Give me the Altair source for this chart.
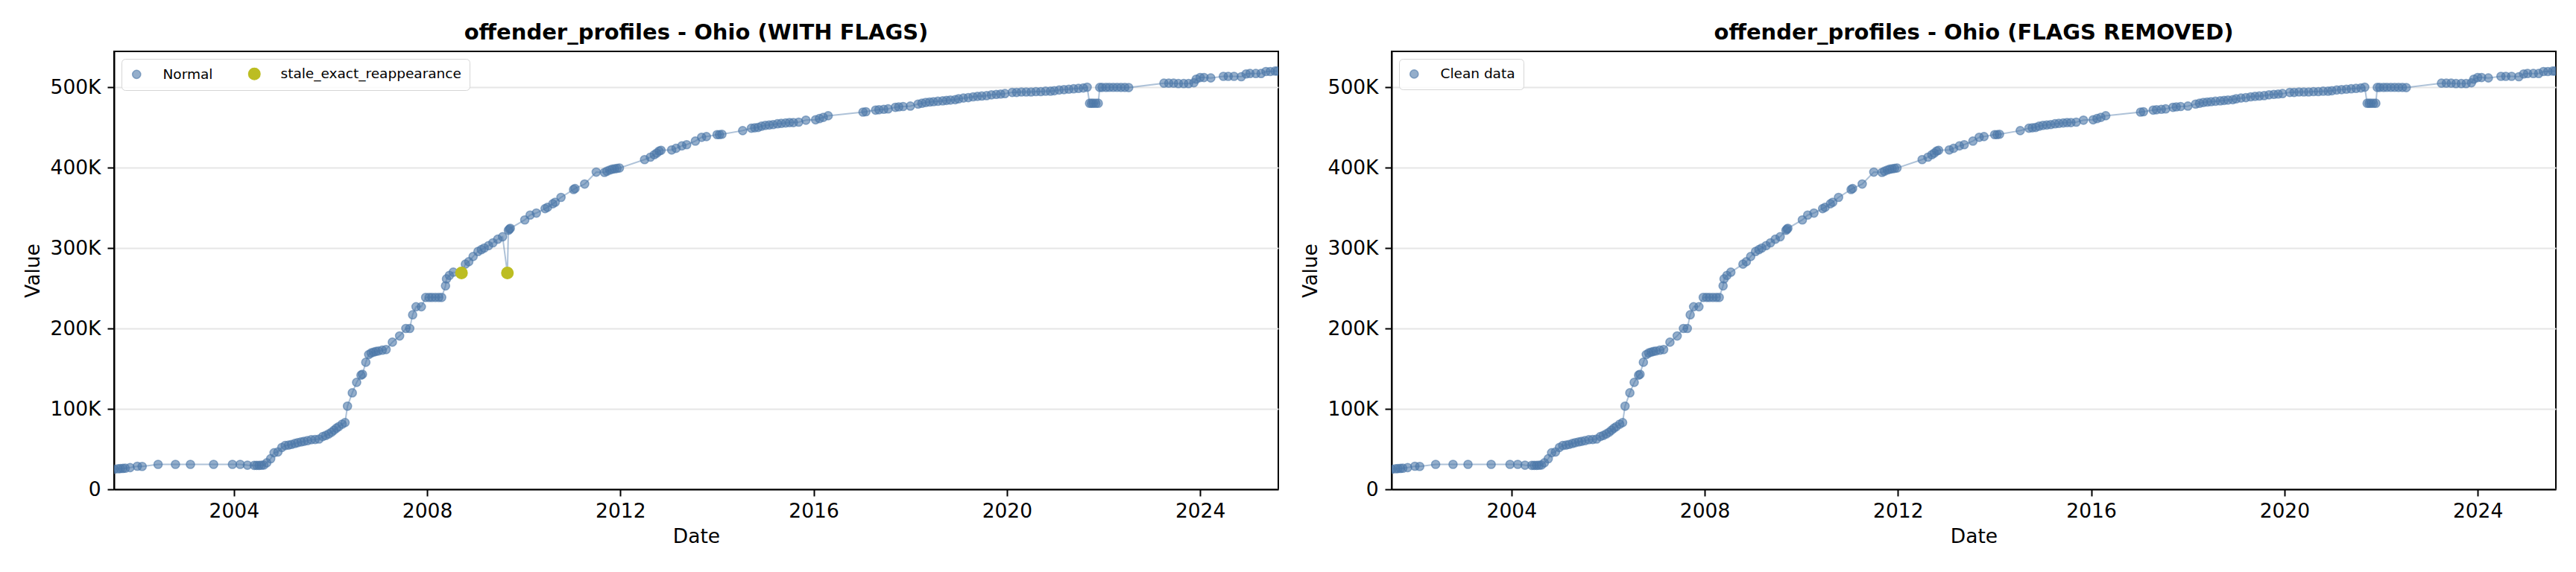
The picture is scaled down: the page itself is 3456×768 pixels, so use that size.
import altair as alt
import pandas as pd

# ---- data (decimal years, values) ----
years = [
    2001.52, 2001.60, 2001.65, 2001.70, 2001.75, 2001.85, 2002.00, 2002.10, 2002.43, 2002.79,
    2003.10, 2003.58, 2003.97, 2004.13, 2004.28, 2004.42, 2004.47, 2004.52, 2004.57, 2004.62,
    2004.68, 2004.76, 2004.83, 2004.91, 2004.99, 2005.06, 2005.13, 2005.19, 2005.26, 2005.32,
    2005.39, 2005.45, 2005.52, 2005.60, 2005.68, 2005.76, 2005.84, 2005.90, 2005.96, 2006.02,
    2006.07, 2006.12, 2006.17, 2006.24, 2006.30,
    2006.35, 2006.45, 2006.54, 2006.63, 2006.66, 2006.73, 2006.79, 2006.84, 2006.89, 2006.94,
    2006.99, 2007.07, 2007.15, 2007.28, 2007.43, 2007.56, 2007.64, 2007.70, 2007.77, 2007.88,
    2007.97, 2008.04, 2008.10, 2008.17, 2008.24, 2008.30, 2008.38, 2008.40, 2008.46, 2008.54,
    2008.71, 2008.79, 2008.86, 2008.95, 2009.05, 2009.12, 2009.18, 2009.27, 2009.36, 2009.46,
    2009.56, 2009.66, 2009.68, 2009.70, 2009.72, 2010.02, 2010.13, 2010.26, 2010.44, 2010.49,
    2010.60, 2010.65, 2010.77, 2011.03, 2011.06, 2011.26, 2011.50, 2011.67, 2011.72, 2011.78,
    2011.83, 2011.88, 2011.93, 2011.98,
    2012.50, 2012.62, 2012.70, 2012.75, 2012.80, 2012.84, 2013.06, 2013.15, 2013.27, 2013.37,
    2013.55, 2013.68, 2013.78, 2014.00, 2014.05, 2014.10, 2014.53, 2014.71, 2014.78, 2014.85,
    2014.92, 2015.00, 2015.08, 2015.16, 2015.25, 2015.33, 2015.42, 2015.50, 2015.58, 2015.69,
    2015.84, 2016.04, 2016.12, 2016.20, 2016.30,
    2017.02, 2017.08, 2017.28, 2017.35, 2017.45, 2017.54, 2017.69, 2017.76, 2017.85, 2018.00,
    2018.16, 2018.24, 2018.32, 2018.40, 2018.48, 2018.57, 2018.67, 2018.75, 2018.83, 2018.93,
    2019.00, 2019.10, 2019.20, 2019.30, 2019.39, 2019.48, 2019.58, 2019.68, 2019.78, 2019.87,
    2019.96, 2020.11, 2020.20, 2020.30, 2020.40, 2020.50, 2020.60, 2020.70, 2020.80, 2020.90,
    2020.98, 2021.08, 2021.18, 2021.28, 2021.38, 2021.48, 2021.58, 2021.66,
    2021.71, 2021.75, 2021.79, 2021.84, 2021.89, 2021.92, 2021.97, 2022.05, 2022.12, 2022.20,
    2022.28, 2022.36, 2022.44, 2022.52, 2023.25, 2023.35, 2023.45, 2023.55, 2023.66, 2023.76,
    2023.87, 2023.92, 2024.00, 2024.08, 2024.22, 2024.48, 2024.58, 2024.70, 2024.85, 2024.95,
    2025.03, 2025.15, 2025.26, 2025.36, 2025.45, 2025.55, 2025.60,
]

values = [
    25000, 25500, 25800, 26000, 26200, 27000, 28700, 28500, 31000, 31000,
    31000, 31000, 31000, 31000, 30000, 29800, 29800, 29800, 29900, 30200,
    33000, 38000, 45500, 46500, 52000, 54500, 55000, 55800, 57000, 58000,
    59000, 59600, 60500, 61700, 62000, 62500, 65700, 67000, 68800, 71000,
    73500, 76000, 78000, 81000, 83000,
    103400, 120000, 133000, 142000, 143000, 158000, 167600, 169500, 170600, 171500,
    172000, 173000, 173800, 183000, 190700, 200000, 200000, 217000, 227000, 227000,
    238600, 238600, 238600, 238600, 238600, 238600, 253000, 261700, 266000, 270000,
    269000, 280000, 283000, 289500, 295700, 298000, 300000, 303000, 306500, 311000,
    314000, 269000, 322000, 323500, 324500, 335000, 341000, 343500, 349000, 350600,
    355000, 357000, 363000, 372800, 374000, 379600, 394400, 394000, 395500, 397000,
    398000, 398500, 399000, 399500,
    410000, 413000, 416000, 418000, 420600, 421500, 422000, 424000, 427000, 428500,
    433000, 437700, 438600, 441000, 441000, 441500, 446000, 449000, 449500, 450000,
    451500, 452500, 453000, 453500, 454500, 455000, 455500, 456000, 456000, 456500,
    459000, 459500, 461000, 462500, 464500,
    469000, 469500, 471500, 472000, 472500, 473000, 475000, 475500, 476000, 476500,
    479000, 480000, 481000, 481500, 482000, 482500, 483000, 483500, 484000, 484500,
    485500, 486500, 487000, 488000, 488600, 489000, 489500, 490500, 491000, 491500,
    492000, 493500, 493500, 494000, 494000, 494000, 494500, 494500, 495000, 495000,
    495600, 496500, 497000, 497500, 498000, 498500, 499000, 500000,
    480000, 480000, 480000, 480000, 480000, 499700, 499700, 499700, 499800, 499800,
    499800, 499700, 499700, 499500, 505000, 505000, 505000, 504500, 504500, 504500,
    505500, 510000, 512000, 512000, 511500, 513500, 513500, 513500, 513000, 516500,
    517000, 517000, 517000, 519500, 519500, 520000, 520000,
]

flagged_years = [2008.71, 2009.66]

status_left = ["Normal", "stale_exact_reappearance"]
status_right = ["Clean data"]
x_ticks = [2004, 2008, 2012, 2016, 2020, 2024]
y_ticks = [0, 100000, 200000, 300000, 400000, 500000]

BLUE = "#4c78a8"
BLUE_A = "rgba(76,120,168,0.6)"
OLIVE = "#bcbd22"
FONT = "DejaVu Sans"
NORMAL_SIZE = 125
FLAG_SIZE = 240


def to_ts(y):
    yr = int(y)
    start = pd.Timestamp(yr, 1, 1)
    end = pd.Timestamp(yr + 1, 1, 1)
    return (start + (end - start) * (y - yr)).strftime("%Y-%m-%dT%H:%M:%S")


df = pd.DataFrame({"year": years, "value": values})
df["date"] = [to_ts(y) for y in years]
df["status"] = [
    "stale_exact_reappearance" if any(abs(y - f) < 1e-6 for f in flagged_years) else "Normal"
    for y in years
]
df["rank"] = [1 if s == "Normal" else 2 for s in df["status"]]
df_pts = df.sort_values("rank", kind="stable")

clean = df[df["status"] == "Normal"].copy()
clean["status"] = "Clean data"

x_enc = alt.X(
    "date:T",
    title="Date",
    scale=alt.Scale(
        domain=[alt.DateTime(year=2001, month=7, date=9), alt.DateTime(year=2025, month=8, date=14)],
        nice=False,
    ),
    axis=alt.Axis(
        values=[alt.DateTime(year=y, month=1, date=1) for y in x_ticks],
        format="%Y",
        grid=False,
        labelPadding=7,
        titlePadding=8,
    ),
)
y_enc = alt.Y(
    "value:Q",
    title="Value",
    scale=alt.Scale(domain=[0, 544500], nice=False),
    axis=alt.Axis(
        values=y_ticks,
        labelExpr="datum.value == 0 ? '0' : format(datum.value / 1000, 'd') + 'K'",
        grid=True,
        gridColor="#e6e6e6",
        gridWidth=2,
        labelPadding=9,
        titlePadding=9,
    ),
)


def legend(**extra):
    return alt.Legend(
        title=None,
        orient="top-left",
        offset=10,
        padding=11,
        direction="horizontal",
        columns=2,
        columnPadding=44,
        fillColor="rgba(255,255,255,0.8)",
        strokeColor="#d6d6d6",
        cornerRadius=5,
        labelFont=FONT,
        labelFontSize=18.5,
        labelColor="black",
        labelOffset=26,
        labelLimit=0,
        **extra,
    )


def line_layer(data):
    return alt.Chart(data).mark_line(
        color=BLUE, opacity=0.45, strokeWidth=2, clip=True
    ).encode(x=x_enc, y=y_enc)


def titled(layers, title):
    return layers.properties(
        width=1562,
        height=588,
        title=alt.TitleParams(
            text=title, font=FONT, fontSize=29, fontWeight="bold", color="black",
            anchor="middle", offset=10,
        ),
    )


# left panel: normal + flagged points
pts_left = alt.Chart(df_pts).mark_circle(strokeWidth=1.5, opacity=1, clip=True).encode(
    x=x_enc,
    y=y_enc,
    color=alt.Color("status:N", scale=alt.Scale(domain=status_left, range=[BLUE_A, OLIVE]), legend=legend()),
    size=alt.Size("status:N", scale=alt.Scale(domain=status_left, range=[NORMAL_SIZE, FLAG_SIZE]), legend=legend()),
    stroke=alt.Stroke("status:N", scale=alt.Scale(domain=status_left, range=[BLUE_A, OLIVE]), legend=None),
    order=alt.Order("rank:Q"),
)
left = titled(alt.layer(line_layer(df), pts_left), "offender_profiles - Ohio (WITH FLAGS)")

# right panel: clean data only
pts_right = alt.Chart(clean).mark_circle(
    size=NORMAL_SIZE, strokeWidth=1.5, opacity=1, stroke=BLUE_A, clip=True,
).encode(
    x=x_enc,
    y=y_enc,
    color=alt.Color(
        "status:N", scale=alt.Scale(domain=status_right, range=[BLUE_A]),
        legend=legend(symbolSize=NORMAL_SIZE),
    ),
)
right = titled(alt.layer(line_layer(clean), pts_right), "offender_profiles - Ohio (FLAGS REMOVED)")

chart = (
    alt.hconcat(left, right, spacing=28)
    .resolve_scale(color="independent", size="independent", stroke="independent")
    .resolve_legend(color="independent", size="independent")
    .properties(padding={"left": 22, "top": 21, "right": 0, "bottom": 4}, background="white")
    .configure_axis(
        labelFont=FONT, titleFont=FONT, labelFontSize=26.5, titleFontSize=26.5,
        labelColor="black", titleColor="black", titleFontWeight="normal",
        tickColor="black", tickWidth=2, tickSize=9, domainColor="black", domainWidth=2,
    )
    .configure_view(stroke="black", strokeWidth=2)
)

chart.save("out.html", embed_options={"renderer": "svg", "actions": False})
